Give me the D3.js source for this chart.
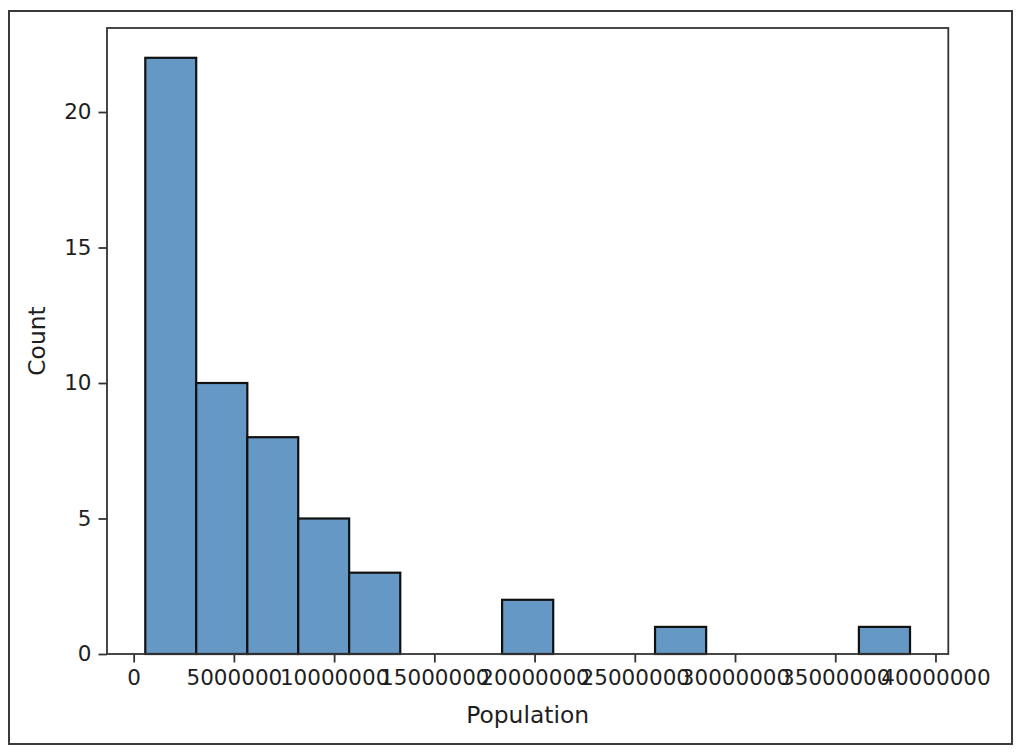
<!DOCTYPE html>
<html>
<head>
<meta charset="utf-8">
<script src="https://cdn.jsdelivr.net/npm/d3@7"></script>
<style>
  html, body { margin: 0; padding: 0; background: #fff; }
  svg { display: block; }
  text { font-family: "DejaVu Sans", sans-serif; fill: #1e1e1e; }
</style>
</head>
<body>
<svg id="chart" width="1024" height="755"></svg>
<script>
// Histogram bin edges (population)
const binEdges = [580000, 3120000, 5670000, 8210000, 10750000, 13300000, 15840000,
  18380000, 20930000, 23470000, 26010000, 28560000, 31100000, 33640000, 36180000, 38730000];
// Count in each bin
const binCounts = [22, 10, 8, 5, 3, 0, 0, 2, 0, 0, 1, 0, 0, 0, 1];
// Tick values
const xTicks = [0, 5000000, 10000000, 15000000, 20000000, 25000000, 30000000, 35000000, 40000000];
const yTicks = [0, 5, 10, 15, 20];
const xLabel = "Population";
const yLabel = "Count";

(function () {
const svg = d3.select("#chart");
const mLeft = 107, mRight = 948.3, mTop = 28, mBottom = 654;

// outer frame
svg.append("rect").attr("x", 9).attr("y", 11).attr("width", 1003).attr("height", 733)
  .attr("fill", "none").attr("stroke", "#3a3a3a").attr("stroke-width", 2);

const x = d3.scaleLinear().domain([-1330000, 40640000]).range([mLeft, mRight]);
const y = d3.scaleLinear().domain([0, 23.1]).range([mBottom, mTop]);

const bins = binCounts.map((c, i) => ({ x0: binEdges[i], x1: binEdges[i + 1], c }));

svg.append("g").selectAll("rect").data(bins.filter(d => d.c > 0)).join("rect")
  .attr("x", d => x(d.x0))
  .attr("y", d => y(d.c))
  .attr("width", d => x(d.x1) - x(d.x0))
  .attr("height", d => y(0) - y(d.c))
  .attr("fill", "#6598c4")
  .attr("stroke", "#111")
  .attr("stroke-width", 2.2);

const fs = "21.5px";
const lfs = "23.4px";

const xAxis = svg.append("g").attr("transform", `translate(0,${mBottom})`)
  .call(d3.axisBottom(x).tickValues(xTicks).tickFormat(d3.format("d")).tickSize(8.5).tickPadding(7));
const yAxis = svg.append("g").attr("transform", `translate(${mLeft},0)`)
  .call(d3.axisLeft(y).tickValues(yTicks).tickFormat(d3.format("d")).tickSize(8.5).tickPadding(7));

[xAxis, yAxis].forEach(g => {
  g.select(".domain").remove();
  g.selectAll("line").attr("stroke", "#333").attr("stroke-width", 1.8);
  g.selectAll("text").style("font-size", fs).attr("fill", "#1e1e1e")
    .style("font-family", "'DejaVu Sans', sans-serif");
});

// axes frame
svg.append("rect").attr("x", mLeft).attr("y", mTop).attr("width", mRight - mLeft).attr("height", mBottom - mTop)
  .attr("fill", "none").attr("stroke", "#333").attr("stroke-width", 1.8);

svg.append("text").attr("x", (mLeft + mRight) / 2).attr("y", 723)
  .attr("text-anchor", "middle").style("font-size", lfs).text(xLabel);

svg.append("text").attr("transform", `translate(45,${(mTop + mBottom) / 2}) rotate(-90)`)
  .attr("text-anchor", "middle").style("font-size", lfs).text(yLabel);
})();
</script>
</body>
</html>
